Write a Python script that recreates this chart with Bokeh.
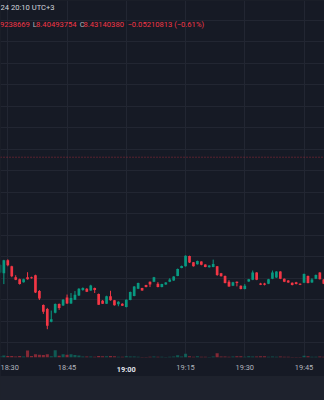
from bokeh.plotting import figure
from bokeh.models import Range1d, FixedTicker, Label, Span, Grid, LinearAxis
from bokeh.layouts import column
from bokeh.embed import file_html
from bokeh.resources import INLINE

BG = "#161a25"
GRID = "#222632"
BAND = "#1e222d"
UP = "#089981"
DOWN = "#f23645"

# 1-minute candles, minutes after 18:30
minutes = list(range(-2, 81))
opens = [8.1631, 8.1615, 8.1915, 8.1776, 8.1522, 8.1476, 8.1407, 8.1522, 8.1522, 8.1568,
         8.1199, 8.0876, 8.0784, 8.0484, 8.0692, 8.0899, 8.0865, 8.1049, 8.0911, 8.0998,
         8.1095, 8.1222, 8.1252, 8.1215, 8.1268, 8.1130, 8.0975, 8.0906, 8.1077, 8.0985,
         8.0892, 8.0906, 8.0830, 8.0992, 8.1084, 8.1252, 8.1268, 8.1338, 8.1414, 8.1414,
         8.1368, 8.1292, 8.1354, 8.1414, 8.1446, 8.1552, 8.1737, 8.1776, 8.2014, 8.1868,
         8.1822, 8.1885, 8.1815, 8.1753, 8.1760, 8.1776, 8.1615, 8.1552, 8.1414, 8.1322,
         8.1414, 8.1322, 8.1245, 8.1423, 8.1460, 8.1631, 8.1377, 8.1377, 8.1368, 8.1483,
         8.1515, 8.1654, 8.1483, 8.1446, 8.1391, 8.1407, 8.1368, 8.1391, 8.1552, 8.1400,
         8.1483, 8.1631, 8.1469]
closes = [8.1806, 8.1915, 8.1799, 8.1545, 8.1465, 8.1361, 8.1476, 8.1476, 8.1499, 8.1165,
          8.1026, 8.0715, 8.0392, 8.0542, 8.0899, 8.0807, 8.0998, 8.0911, 8.1038, 8.1114,
          8.1252, 8.1268, 8.1183, 8.1331, 8.1222, 8.0883, 8.0906, 8.1077, 8.0985, 8.0869,
          8.0952, 8.0860, 8.0998, 8.1176, 8.1308, 8.1384, 8.1215, 8.1292, 8.1354, 8.1522,
          8.1292, 8.1361, 8.1400, 8.1469, 8.1538, 8.1714, 8.1783, 8.2023, 8.1862, 8.1776,
          8.1898, 8.1811, 8.1760, 8.1792, 8.1829, 8.1575, 8.1545, 8.1384, 8.1308, 8.1407,
          8.1384, 8.1245, 8.1322, 8.1476, 8.1631, 8.1460, 8.1345, 8.1345, 8.1476, 8.1631,
          8.1654, 8.1483, 8.1414, 8.1400, 8.1338, 8.1361, 8.1345, 8.1598, 8.1384, 8.1469,
          8.1575, 8.1476, 8.1368]
highs = [8.1822, 8.1926, 8.1938, 8.1788, 8.1568, 8.1488, 8.1488, 8.1638, 8.1534, 8.1580,
         8.1222, 8.0888, 8.0807, 8.0745, 8.0911, 8.0911, 8.1015, 8.1118, 8.1153, 8.1199,
         8.1268, 8.1285, 8.1268, 8.1345, 8.1280, 8.1142, 8.0992, 8.1091, 8.1206, 8.0992,
         8.0962, 8.0915, 8.1008, 8.1188, 8.1315, 8.1395, 8.1275, 8.1345, 8.1423, 8.1529,
         8.1407, 8.1368, 8.1407, 8.1499, 8.1545, 8.1723, 8.1792, 8.2030, 8.2023, 8.1875,
         8.1908, 8.1892, 8.1822, 8.1799, 8.1931, 8.1783, 8.1622, 8.1562, 8.1453, 8.1414,
         8.1423, 8.1331, 8.1361, 8.1483, 8.1677, 8.1638, 8.1391, 8.1391, 8.1483, 8.1677,
         8.1661, 8.1661, 8.1492, 8.1453, 8.1400, 8.1414, 8.1377, 8.1608, 8.1562, 8.1499,
         8.1585, 8.1638, 8.1476]
lows = [8.1615, 8.1361, 8.1776, 8.1522, 8.1453, 8.1349, 8.1395, 8.1465, 8.1488, 8.1153,
        8.0992, 8.0668, 8.0311, 8.0472, 8.0680, 8.0761, 8.0853, 8.0899, 8.0899, 8.0992,
        8.1084, 8.1206, 8.1176, 8.1206, 8.1153, 8.0876, 8.0899, 8.0899, 8.0975, 8.0860,
        8.0846, 8.0853, 8.0818, 8.0985, 8.1077, 8.1245, 8.1206, 8.1285, 8.1292, 8.1407,
        8.1285, 8.1285, 8.1345, 8.1407, 8.1437, 8.1545, 8.1730, 8.1769, 8.1852, 8.1769,
        8.1815, 8.1799, 8.1753, 8.1746, 8.1753, 8.1552, 8.1538, 8.1377, 8.1298, 8.1315,
        8.1308, 8.1238, 8.1238, 8.1414, 8.1453, 8.1453, 8.1338, 8.1331, 8.1361, 8.1476,
        8.1506, 8.1476, 8.1407, 8.1391, 8.1331, 8.1354, 8.1338, 8.1384, 8.1377, 8.1391,
        8.1476, 8.1469, 8.1361]
volumes = [750, 1000, 700, 800, 500, 700, 450, 3500, 700, 1650,
           1350, 1300, 1700, 600, 3650, 850, 1650, 1350, 1650, 1300,
           1000, 500, 450, 500, 350, 750, 650, 650, 750, 650,
           350, 350, 650, 500, 500, 350, 300, 300, 350, 500,
           400, 350, 300, 400, 500, 1150, 500, 1850, 600, 400,
           650, 400, 350, 300, 500, 2150, 500, 450, 400, 450,
           650, 650, 400, 650, 500, 450, 650, 650, 400, 450,
           400, 450, 350, 350, 300, 300, 300, 850, 650, 400,
           400, 450, 400]

tick_minutes = [0, 15, 30, 45, 60, 75]
tick_labels = ["18:30", "18:45", "19:00", "19:15", "19:30", "19:45"]
hour_ticks = [30]
price_grid = [7.95, 8.00, 8.05, 8.10, 8.15, 8.20, 8.25, 8.30, 8.35, 8.40,
              8.45, 8.50, 8.55, 8.60, 8.65, 8.70, 8.75, 8.80]
last_close = 8.4314

colors = [UP if c >= o else DOWN for o, c in zip(opens, closes)]
tops = [max(o, c) for o, c in zip(opens, closes)]
bottoms = [min(o, c) for o, c in zip(opens, closes)]

p = figure(width=324, height=376, x_range=Range1d(-1.85, 80.18),
           y_range=Range1d(7.9653, 8.7961), output_backend="svg",
           toolbar_location=None, y_axis_location=None,
           min_border_left=0, min_border_right=0, min_border_top=0,
           min_border_bottom=16, background_fill_color=BG,
           border_fill_color=BG, outline_line_color=None)
p.grid.grid_line_color = None
p.add_layout(Grid(dimension=0, ticker=FixedTicker(ticks=tick_minutes),
                  grid_line_color=GRID, grid_line_width=1))
p.add_layout(Grid(dimension=1, ticker=FixedTicker(ticks=price_grid),
                  grid_line_color=GRID, grid_line_width=1))

def style_axis(a):
    a.axis_line_color = None
    a.major_tick_line_color = None
    a.minor_tick_line_color = None
    a.major_tick_out = 0
    a.major_label_text_font = "Roboto"
    a.major_label_text_font_size = "7.4px"

labels = dict(zip(tick_minutes, tick_labels))
ax = p.xaxis[0]
ax.ticker = FixedTicker(ticks=[m for m in tick_minutes if m not in hour_ticks])
ax.major_label_overrides = {m: labels[m] for m in tick_minutes if m not in hour_ticks}
style_axis(ax)
ax.major_label_standoff = 5
ax.major_label_text_color = "#b2b5be"

ax2 = LinearAxis(ticker=FixedTicker(ticks=hour_ticks),
                 major_label_overrides={m: labels[m] for m in hour_ticks})
style_axis(ax2)
ax2.major_label_standoff = -10
ax2.major_label_text_font_style = "bold"
ax2.major_label_text_color = "#e0e3eb"
p.add_layout(ax2, "below")

p.extra_y_ranges = {"vol": Range1d(0, 180000)}
p.vbar(x=minutes, width=0.78, top=volumes, bottom=0, y_range_name="vol",
       fill_color=colors, fill_alpha=0.5, line_color=None)

p.add_layout(Span(location=last_close, dimension="width", line_color=DOWN,
                  line_alpha=0.6, line_dash="1 2", line_width=1))

p.segment(x0=minutes, y0=highs, x1=minutes, y1=lows, line_color=colors, line_width=1)
p.vbar(x=minutes, width=0.68, top=tops, bottom=bottoms, fill_color=colors, line_color=None)

def lab(x, y, text, color):
    p.add_layout(Label(x=x, y=y, x_units="screen", y_units="screen", text=text,
                       text_font="Roboto", text_font_size="7.6px", text_color=color,
                       text_baseline="middle", text_align="left"))

lab(0, 350, "24 20:10 UTC+3", "#d1d4dc")
lab(-0.5, 333, "9238669", DOWN)
lab(32.3, 333, "L", "#b2b5be")
lab(35.6, 333, "8.40493754", DOWN)
lab(79.3, 333, "C", "#b2b5be")
lab(83.0, 333, "8.43140380", DOWN)
lab(127, 333, "\u22120.05210813 (\u22120.61%)", DOWN)

band = figure(width=324, height=24, output_backend="svg", toolbar_location=None,
              x_axis_location=None, y_axis_location=None,
              min_border_left=0, min_border_right=0, min_border_top=0, min_border_bottom=0,
              background_fill_color=BAND, border_fill_color=BAND, outline_line_color=None)
band.grid.grid_line_color = None

layout = column(p, band, spacing=0, styles={"background-color": BAND})

open("out.html", "w").write(file_html(layout, INLINE))
